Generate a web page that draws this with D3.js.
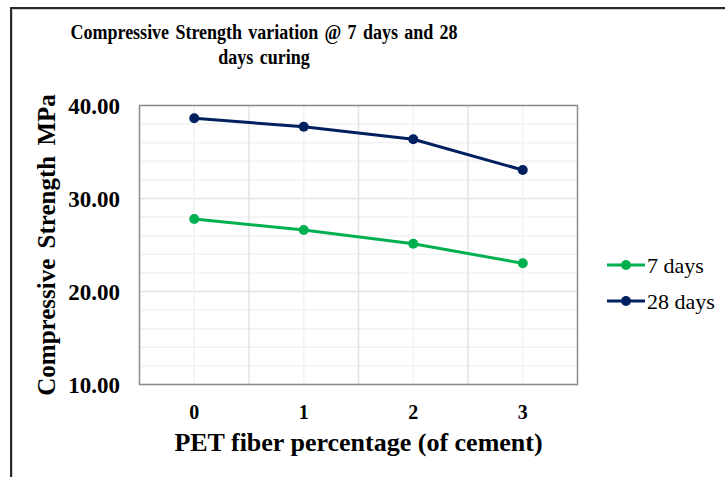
<!DOCTYPE html>
<html>
<head>
<meta charset="utf-8">
<script src="https://cdn.jsdelivr.net/npm/d3@7"></script>
<style>
  body { margin: 0; background: #fff; }
  svg { display: block; }
  .title, .axis-title, .tick-label { font-family: "Liberation Serif", "Times New Roman", serif; font-weight: bold; fill: #000; }
  .legend-label { font-family: "Liberation Serif", "Times New Roman", serif; fill: #000; }
  .minor_grid { stroke: #f2f2f2; stroke-width: 1.5px; }
  .major_grid { stroke: #e3e3e3; stroke-width: 1.5px; }
</style>
</head>
<body>
<svg id="chart"></svg>
<script>
// data
var categories = ["0", "1", "2", "3"];
var days7 = [27.80, 26.61, 25.14, 23.03];
var days28 = [38.62, 37.72, 36.37, 33.06];
var yTicks = [10, 20, 30, 40];
var yMinor = [12, 14, 16, 18, 22, 24, 26, 28, 32, 34, 36, 38];
var seriesNames = ["7 days", "28 days"];
var seriesColors = ["#00b050", "#002060"];

var width = 725, height = 477;
var plot = {left: 139.5, right: 577.5, top: 105.5, bottom: 384.5};

var svg = d3.select("#chart").attr("width", width).attr("height", height);

// outer frame
svg.append("path")
  .attr("d", "M11," + height + " V8 H" + width)
  .style("fill", "none").style("stroke", "#2b2b2b").style("stroke-width", 2);
svg.append("path")
  .attr("d", "M12.5," + height + " V9.5 H" + width)
  .style("fill", "none").style("stroke", "#cfcfcf").style("stroke-width", 1);

var x = d3.scaleBand().domain(categories).range([plot.left, plot.right]);
var y = d3.scaleLinear().domain([10, 40]).range([plot.bottom, plot.top]);

// horizontal gridlines
svg.selectAll(".hminor").data(yMinor).enter().append("line")
  .attr("class", "minor_grid")
  .attr("x1", plot.left).attr("x2", plot.right)
  .attr("y1", d => y(d)).attr("y2", d => y(d));
svg.selectAll(".hmajor").data(yTicks).enter().append("line")
  .attr("class", "major_grid")
  .attr("x1", plot.left).attr("x2", plot.right)
  .attr("y1", d => y(d)).attr("y2", d => y(d));

// vertical gridlines: light ones at category centres, darker at band edges
svg.selectAll(".vminor").data(categories).enter().append("line")
  .attr("class", "minor_grid")
  .attr("x1", d => x(d) + x.bandwidth() / 2).attr("x2", d => x(d) + x.bandwidth() / 2)
  .attr("y1", plot.top).attr("y2", plot.bottom);
svg.selectAll(".vmajor").data(categories.slice(1)).enter().append("line")
  .attr("class", "major_grid")
  .attr("x1", d => x(d)).attr("x2", d => x(d))
  .attr("y1", plot.top).attr("y2", plot.bottom);

// plot border
svg.append("rect")
  .attr("x", plot.left).attr("y", plot.top)
  .attr("width", plot.right - plot.left).attr("height", plot.bottom - plot.top)
  .style("fill", "none").style("stroke", "#8c8c8c").style("stroke-width", 1.5);

// y tick labels
svg.selectAll(".ylab").data(yTicks).enter().append("text")
  .attr("class", "tick-label")
  .attr("x", 120).attr("y", d => y(d))
  .attr("dy", "0.35em")
  .attr("text-anchor", "end")
  .style("font-size", "23px")
  .text(d => d.toFixed(2));

// x tick labels
svg.selectAll(".xlab").data(categories).enter().append("text")
  .attr("class", "tick-label")
  .attr("x", d => x(d) + x.bandwidth() / 2).attr("y", 419)
  .attr("text-anchor", "middle")
  .style("font-size", "20px")
  .text(d => d);

// series
var series = [days7, days28];
var line = d3.line()
  .x((d, i) => x(categories[i]) + x.bandwidth() / 2)
  .y(d => y(d));

series.forEach(function(vals, s) {
  svg.append("path")
    .datum(vals)
    .attr("d", line)
    .style("fill", "none")
    .style("stroke", seriesColors[s])
    .style("stroke-width", 3)
    .style("stroke-linejoin", "round");
  svg.selectAll(".pt" + s).data(vals).enter().append("circle")
    .attr("cx", (d, i) => x(categories[i]) + x.bandwidth() / 2)
    .attr("cy", d => y(d))
    .attr("r", 5)
    .style("fill", seriesColors[s]);
});

// titles (the reference glyphs look a bit condensed)
var title = svg.append("text").attr("class", "title")
  .attr("transform", "translate(264,0) scale(0.9,1)")
  .attr("text-anchor", "middle")
  .style("font-size", "20px")
  .style("word-spacing", "2px");
title.append("tspan").attr("x", 0).attr("y", 39).text("Compressive Strength variation @ 7 days and 28");
title.append("tspan").attr("x", 0).attr("y", 64).text("days curing");

svg.append("text").attr("class", "axis-title")
  .attr("x", (plot.left + plot.right) / 2).attr("y", 451)
  .attr("text-anchor", "middle")
  .style("font-size", "26px")
  .text("PET fiber percentage (of cement)");

svg.append("text").attr("class", "axis-title")
  .attr("transform", "translate(55," + ((plot.top + plot.bottom) / 2) + ") rotate(-90)")
  .attr("text-anchor", "middle")
  .style("font-size", "25px")
  .style("word-spacing", "4px")
  .text("Compressive Strength MPa");

// legend
var legendY = [265, 301];
seriesNames.forEach(function(name, s) {
  var g = svg.append("g");
  g.append("line")
    .attr("x1", 607).attr("x2", 645)
    .attr("y1", legendY[s]).attr("y2", legendY[s])
    .style("stroke", seriesColors[s]).style("stroke-width", 3);
  g.append("circle")
    .attr("cx", 626).attr("cy", legendY[s]).attr("r", 5)
    .style("fill", seriesColors[s]);
  g.append("text").attr("class", "legend-label")
    .attr("x", 647).attr("y", legendY[s])
    .attr("dy", "0.35em")
    .style("font-size", "22px")
    .text(name);
});
</script>
</body>
</html>
